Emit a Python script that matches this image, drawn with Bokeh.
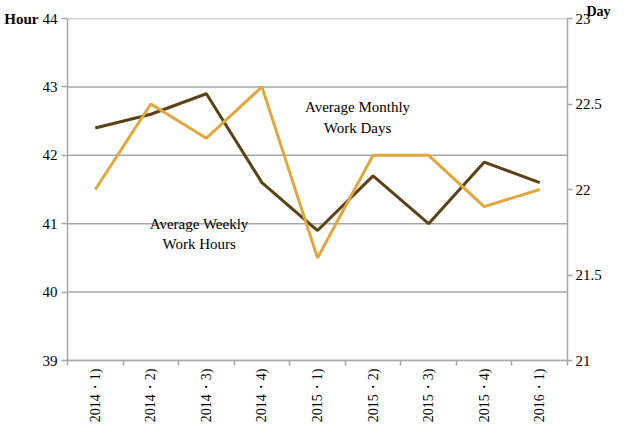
import math
from bokeh.plotting import figure
from bokeh.models import Range1d, LinearAxis, FixedTicker, Label, ColumnDataSource, Title
from bokeh.embed import file_html
from bokeh.resources import INLINE

periods = ["2014・1)", "2014・2)", "2014・3)", "2014・4)", "2015・1)",
           "2015・2)", "2015・3)", "2015・4)", "2016・1)"]
weekly_hours = [42.4, 42.6, 42.9, 41.6, 40.9, 41.7, 41.0, 41.9, 41.6]
monthly_days = [22.0, 22.5, 22.3, 22.6, 21.6, 22.2, 22.2, 21.9, 22.0]
hour_ticks = [39, 40, 41, 42, 43, 44]
day_ticks = [21, 21.5, 22, 22.5, 23]

FONT = "Liberation Serif"
GRID = "#a6a6a6"
DARK = "#5a4216"
GOLD = "#e0a83c"

xs = [i + 0.5 for i in range(len(periods))]
src = ColumnDataSource(dict(x=xs, h=weekly_hours, d=monthly_days))

p = figure(width=611, height=425, output_backend="svg", toolbar_location=None,
           x_range=Range1d(0, len(periods)), y_range=Range1d(39, 44),
           min_border_left=67, min_border_right=44, min_border_top=18,
           min_border_bottom=63, x_axis_location=None, y_axis_location=None)
p.outline_line_color = None
p.grid.visible = False
p.background_fill_color = "white"
p.border_fill_color = "white"
p.extra_y_ranges = {"day": Range1d(21, 23)}

# bottom axis: labels at category centres, ticks at boundaries
xaxis = LinearAxis(ticker=FixedTicker(ticks=xs, minor_ticks=list(range(len(periods) + 1))),
                   major_label_overrides={x: lab for x, lab in zip(xs, periods)})
xaxis.major_label_orientation = math.pi / 2
xaxis.major_tick_out = 0
xaxis.major_tick_in = 0
xaxis.minor_tick_out = 5
xaxis.minor_tick_in = 0
xaxis.minor_tick_line_color = GRID
xaxis.minor_tick_line_width = 1.5
xaxis.axis_line_color = GRID
xaxis.axis_line_width = 1.5
xaxis.major_label_text_font = FONT
xaxis.major_label_text_font_size = "14px"
xaxis.major_label_text_color = "black"
xaxis.major_label_standoff = 3
p.add_layout(xaxis, "below")

# left axis
yaxis = LinearAxis(ticker=FixedTicker(ticks=hour_ticks))
yaxis.major_tick_out = 6
yaxis.major_tick_in = 0
yaxis.minor_tick_line_color = None
yaxis.major_tick_line_color = GRID
yaxis.major_tick_line_width = 1.5
yaxis.axis_line_color = GRID
yaxis.axis_line_width = 1.5
yaxis.major_label_text_font = FONT
yaxis.major_label_text_font_size = "15px"
yaxis.major_label_text_color = "black"
yaxis.major_label_standoff = 4
yaxis.axis_label = "Hour"
yaxis.axis_label_text_font = FONT
yaxis.axis_label_text_font_size = "15px"
yaxis.axis_label_text_font_style = "bold"
yaxis.axis_label_text_color = "black"
yaxis.axis_label_standoff = 1
try:
    yaxis.axis_label_orientation = "horizontal"
    yaxis.axis_label_align = "end"
except AttributeError:
    pass
p.add_layout(yaxis, "left")

# right axis
raxis = LinearAxis(y_range_name="day", ticker=FixedTicker(ticks=day_ticks),
                   major_label_overrides={t: ("%g" % t) for t in day_ticks})
raxis.major_tick_out = 5
raxis.major_tick_in = 0
raxis.minor_tick_line_color = None
raxis.major_tick_line_color = GRID
raxis.major_tick_line_width = 1.5
raxis.axis_line_color = GRID
raxis.axis_line_width = 1.5
raxis.major_label_text_font = FONT
raxis.major_label_text_font_size = "15px"
raxis.major_label_text_color = "black"
raxis.major_label_standoff = 3
p.add_layout(raxis, "right")

# "Day" unit label at top right
p.add_layout(Title(text="Day", align="right", offset=-43, standoff=0,
                   text_font=FONT, text_font_size="14px", text_font_style="bold",
                   text_color="black", vertical_align="bottom"), "above")

# horizontal grid lines
for t in hour_ticks:
    p.line([0, len(periods)], [t, t], line_color=GRID, line_width=1.5)

p.line("x", "h", source=src, line_color=DARK, line_width=3)
p.line("x", "d", source=src, line_color=GOLD, line_width=3, y_range_name="day")

def lab(x, y, text):
    p.add_layout(Label(x=x, y=y, text=text, text_align="center", text_baseline="middle",
                       text_font=FONT, text_font_size="15px", text_color="black"))

lab(5.22, 42.71, "Average Monthly")
lab(5.22, 42.40, "Work Days")
lab(2.37, 41.0, "Average Weekly")
lab(2.37, 40.70, "Work Hours")

open("out.html", "w").write(file_html(p, INLINE))
